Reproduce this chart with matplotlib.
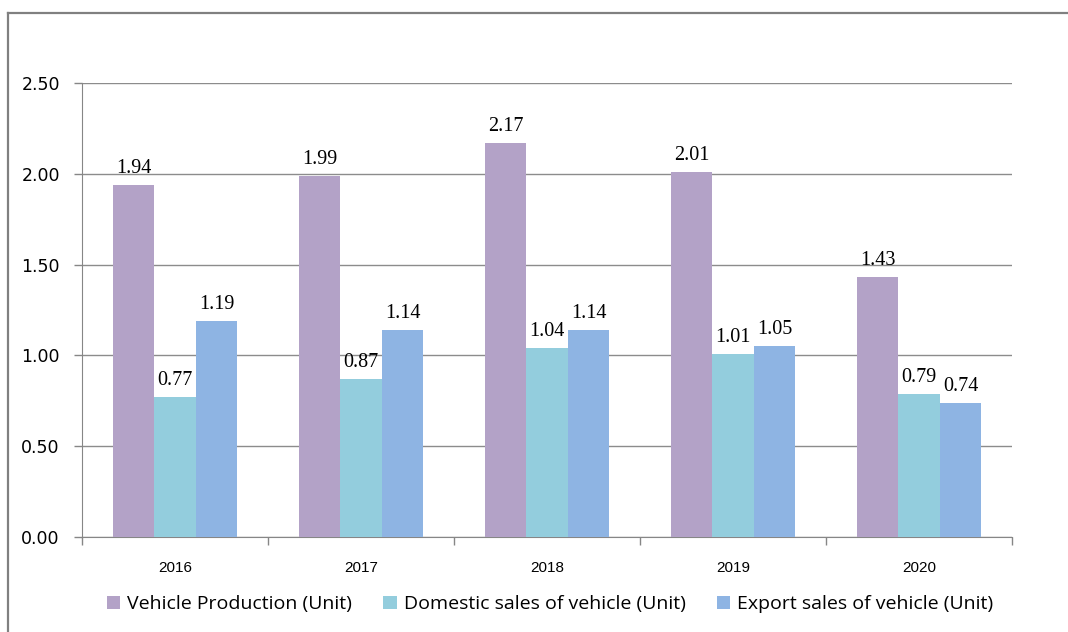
import matplotlib
matplotlib.use("Agg")
import matplotlib.pyplot as plt
import numpy as np
from matplotlib.lines import Line2D

# data
years = ["2016", "2017", "2018", "2019", "2020"]
production = [1.94, 1.99, 2.17, 2.01, 1.43]
domestic = [0.77, 0.87, 1.04, 1.01, 0.79]
export = [1.19, 1.14, 1.14, 1.05, 0.74]
series_names = ["Vehicle Production (Unit)", "Domestic sales of vehicle (Unit)",
                "Export sales of vehicle (Unit)"]
colors = ["#B3A2C7", "#93CDDD", "#8EB4E3"]

fig = plt.figure(figsize=(10.68, 6.32), dpi=100)
ax = fig.add_axes([0.0768, 0.1503, 0.8708, 0.7184])

# outer frame (only top and left edges visible)
fig.add_artist(Line2D([8/1068, 1], [1-13/632, 1-13/632], color="#808080", lw=1.6,
                      transform=fig.transFigure))
fig.add_artist(Line2D([8/1068, 8/1068], [0, 1-13/632], color="#808080", lw=1.6,
                      transform=fig.transFigure))

x = np.arange(len(years))
w = 0.223
for i, (vals, c, name) in enumerate(zip([production, domestic, export], colors, series_names)):
    pos = x + (i - 1) * w
    ax.bar(pos, vals, width=w, color=c, label=name, zorder=3)
    for p, v in zip(pos, vals):
        ax.annotate(f"{v:.2f}", (p, v), xytext=(0, 5), textcoords="offset points",
                    ha="center", va="bottom", fontsize=14.5, family="Liberation Serif",
                    zorder=4)

ax.set_xlim(-0.5, 4.5)
ax.set_ylim(0, 2.5)
ax.set_yticks(np.arange(0, 2.51, 0.5))
ax.set_yticklabels([f"{t:.2f}" for t in np.arange(0, 2.51, 0.5)], fontsize=12.5,
                   family="DejaVu Sans")
ax.yaxis.grid(True, color="#8C8C8C", lw=1, zorder=0)

ax.set_xticks(np.arange(-0.5, 4.6, 1))
ax.set_xticklabels([])
ax.set_xticks(x, minor=True)
ax.set_xticklabels(years, minor=True, fontsize=11, family="Liberation Sans")
ax.tick_params(axis="x", which="minor", length=0, pad=17)
ax.tick_params(axis="x", which="major", length=6, color="#868686", width=1)
ax.tick_params(axis="y", length=6, color="#868686", width=1, pad=10)

for s in ["top", "right"]:
    ax.spines[s].set_visible(False)
for s in ["left", "bottom"]:
    ax.spines[s].set_color("#868686")

ax.legend(loc="center", bbox_to_anchor=(0.515, 0.044), bbox_transform=fig.transFigure,
          ncol=3, frameon=False, prop={"family": "Open Sans", "size": 14},
          handlelength=0.7, handleheight=0.7, handletextpad=0.35, columnspacing=1.6)

fig.savefig("out.png", dpi=100)
